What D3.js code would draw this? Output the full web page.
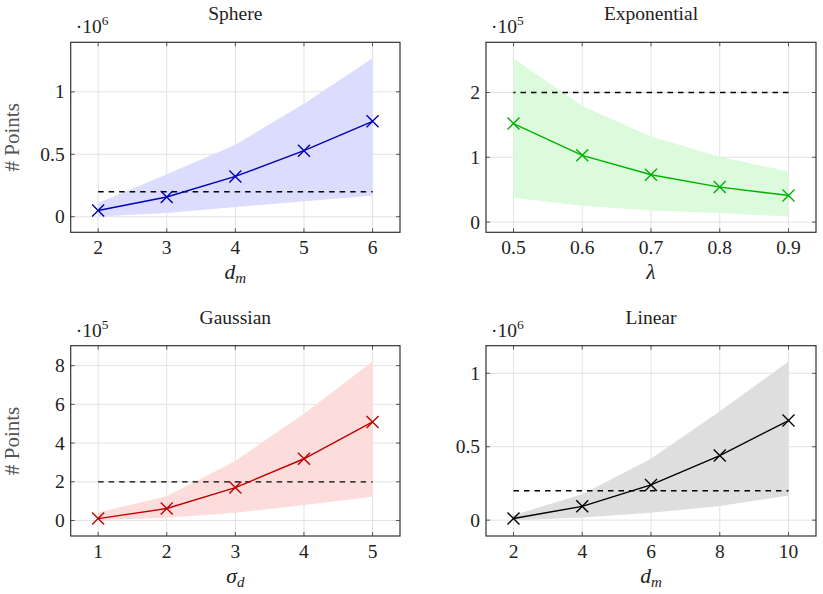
<!DOCTYPE html>
<html><head><meta charset="utf-8">
<script src="https://cdn.jsdelivr.net/npm/d3@7"></script>
<style>
html,body{margin:0;padding:0;background:#fff;}
svg{display:block;font-family:"Liberation Serif","Times New Roman",serif;}
</style></head>
<body><svg id="c" width="823" height="594"></svg>
<script>
// ---- data (values in units of the scale factor shown above each axis) ----
const sphereX = [2, 3, 4, 5, 6];
const sphereMean = [0.05, 0.158, 0.323, 0.529, 0.764];
const sphereUpper = [0.11, 0.34, 0.577, 0.904, 1.27];
const sphereLower = [0.002, 0.03, 0.078, 0.123, 0.168];
const sphereYTicks = [0, 0.5, 1];

const expX = [0.5, 0.6, 0.7, 0.8, 0.9];
const expMean = [1.52, 1.03, 0.73, 0.54, 0.41];
const expUpper = [2.53, 1.79, 1.32, 1.01, 0.78];
const expLower = [0.376, 0.252, 0.18, 0.139, 0.087];
const expYTicks = [0, 1, 2];

const gaussX = [1, 2, 3, 4, 5];
const gaussMean = [0.10, 0.62, 1.70, 3.19, 5.09];
const gaussUpper = [0.42, 1.26, 3.08, 5.52, 8.21];
const gaussLower = [0.02, 0.14, 0.40, 0.80, 1.23];
const gaussYTicks = [0, 2, 4, 6, 8];

const linX = [2, 4, 6, 8, 10];
const linMean = [0.011, 0.094, 0.24, 0.44, 0.678];
const linUpper = [0.034, 0.176, 0.418, 0.742, 1.08];
const linLower = [0, 0.018, 0.05, 0.096, 0.167];
const linYTicks = [0, 0.5, 1];

const titles = ["Sphere", "Exponential", "Gaussian", "Linear"];
const exponents = ["6", "5", "5", "6"];
const thresholds = [0.2, 2, 2, 0.2];   // 2·10^5 expressed in each panel's units

// ---- layout / styles ----
const svg = d3.select("#c");
const panels = [
  {x: sphereX, m: sphereMean, u: sphereUpper, l: sphereLower, yt: sphereYTicks,
   box: [70.7, 400, 42.3, 232.3], line: "#0000b4", fill: "#dcdcfe", xl: ["d", "m"], ylab: true, rev: false},
  {x: expX, m: expMean, u: expUpper, l: expLower, yt: expYTicks,
   box: [486, 816, 42.3, 232.3], line: "#00b000", fill: "#dcfadc", xl: ["λ", ""], ylab: false, rev: true},
  {x: gaussX, m: gaussMean, u: gaussUpper, l: gaussLower, yt: gaussYTicks,
   box: [70.7, 400, 345.7, 536], line: "#c00000", fill: "#fddcdc", xl: ["σ", "d"], ylab: true, rev: false},
  {x: linX, m: linMean, u: linUpper, l: linLower, yt: linYTicks,
   box: [486, 816, 345.7, 536], line: "#000000", fill: "#dedede", xl: ["d", "m"], ylab: false, rev: false}
];

const fs = 19.5;
panels.forEach((p, i) => {
  const [L, R, T, B] = p.box;
  const xe = d3.extent(p.x), xr = xe[1] - xe[0];
  const ymin = d3.min(p.l.concat([thresholds[i]])), ymax = d3.max(p.u.concat([thresholds[i]]));
  const yr = ymax - ymin;
  const x = d3.scaleLinear().domain([xe[0] - 0.1 * xr, xe[1] + 0.1 * xr]).range([L, R]);
  const y = d3.scaleLinear().domain([ymin - 0.1 * yr, ymax + 0.1 * yr]).range([B, T]);
  const g = svg.append("g");
  const data = p.x.map((xv, k) => ({x: xv, m: p.m[k], u: p.u[k], l: p.l[k]}));

  // grid
  g.selectAll(".gx").data(p.x).join("line")
    .attr("x1", d => x(d)).attr("x2", d => x(d)).attr("y1", T).attr("y2", B)
    .attr("stroke", "#e2e2e2").attr("stroke-width", 1);
  g.selectAll(".gy").data(p.yt).join("line")
    .attr("y1", d => y(d)).attr("y2", d => y(d)).attr("x1", L).attr("x2", R)
    .attr("stroke", "#e2e2e2").attr("stroke-width", 1);

  // band
  g.append("path").datum(data)
    .attr("d", d3.area().x(d => x(d.x)).y0(d => y(d.l)).y1(d => y(d.u)))
    .attr("fill", p.fill).attr("stroke", "none");

  // threshold (dashed)
  const tx = p.rev ? [xe[1], xe[0]] : [xe[0], xe[1]];
  g.append("line")
    .attr("x1", x(tx[0])).attr("x2", x(tx[1]))
    .attr("y1", y(thresholds[i])).attr("y2", y(thresholds[i]))
    .attr("stroke", "#000").attr("stroke-width", 1.3).attr("stroke-dasharray", "5.5,5");

  // mean line
  g.append("path").datum(data)
    .attr("d", d3.line().x(d => x(d.x)).y(d => y(d.m)))
    .attr("fill", "none").attr("stroke", p.line).attr("stroke-width", 1.4);
  const s = 6;
  data.forEach(d => {
    const cx = x(d.x), cy = y(d.m);
    g.append("path")
      .attr("d", `M${cx - s},${cy - s}L${cx + s},${cy + s}M${cx - s},${cy + s}L${cx + s},${cy - s}`)
      .attr("stroke", p.line).attr("stroke-width", 1.4).attr("fill", "none");
  });

  // ticks (both sides, inward)
  const tk = 4;
  p.x.forEach(v => {
    g.append("line").attr("x1", x(v)).attr("x2", x(v)).attr("y1", B).attr("y2", B - tk).attr("stroke", "#555").attr("stroke-width", 1);
    g.append("line").attr("x1", x(v)).attr("x2", x(v)).attr("y1", T).attr("y2", T + tk).attr("stroke", "#555").attr("stroke-width", 1);
  });
  p.yt.forEach(v => {
    g.append("line").attr("y1", y(v)).attr("y2", y(v)).attr("x1", L).attr("x2", L + tk).attr("stroke", "#555").attr("stroke-width", 1);
    g.append("line").attr("y1", y(v)).attr("y2", y(v)).attr("x1", R).attr("x2", R - tk).attr("stroke", "#555").attr("stroke-width", 1);
  });

  // frame
  g.append("rect").attr("x", L).attr("y", T).attr("width", R - L).attr("height", B - T)
    .attr("fill", "none").attr("stroke", "#333").attr("stroke-width", 1.2);

  // tick labels
  g.selectAll(".xl").data(p.x).join("text")
    .attr("x", d => x(d)).attr("y", B + 22).attr("text-anchor", "middle")
    .attr("font-size", fs).attr("fill", "#222").text(d => d3.format("~g")(d));
  g.selectAll(".yl").data(p.yt).join("text")
    .attr("x", L - 6).attr("y", d => y(d) + 6.5).attr("text-anchor", "end")
    .attr("font-size", fs).attr("fill", "#222").text(d => d3.format("~g")(d));

  // title
  g.append("text").attr("x", (L + R) / 2).attr("y", T - 22).attr("text-anchor", "middle")
    .attr("font-size", fs).attr("fill", "#222").text(titles[i]);

  // scale factor
  const sf = g.append("text").attr("x", L + 5).attr("y", T - 9).attr("font-size", fs).attr("fill", "#222");
  sf.append("tspan").text("·10");
  sf.append("tspan").attr("font-size", 13.5).attr("dy", -8).text(exponents[i]);

  // x label
  const xlab = g.append("text").attr("x", (L + R) / 2).attr("y", B + 47).attr("text-anchor", "middle")
    .attr("font-size", fs + 2).attr("fill", "#222").attr("font-style", "italic");
  xlab.append("tspan").text(p.xl[0]);
  if (p.xl[1]) xlab.append("tspan").attr("font-size", 15).attr("dy", 4).text(p.xl[1]);

  // y label
  if (p.ylab) {
    g.append("text")
      .attr("transform", `translate(${L - 52},${(T + B) / 2}) rotate(-90)`)
      .attr("text-anchor", "middle").attr("font-size", fs + 1.5).attr("fill", "#555")
      .text("# Points");
  }
});
</script></body></html>
